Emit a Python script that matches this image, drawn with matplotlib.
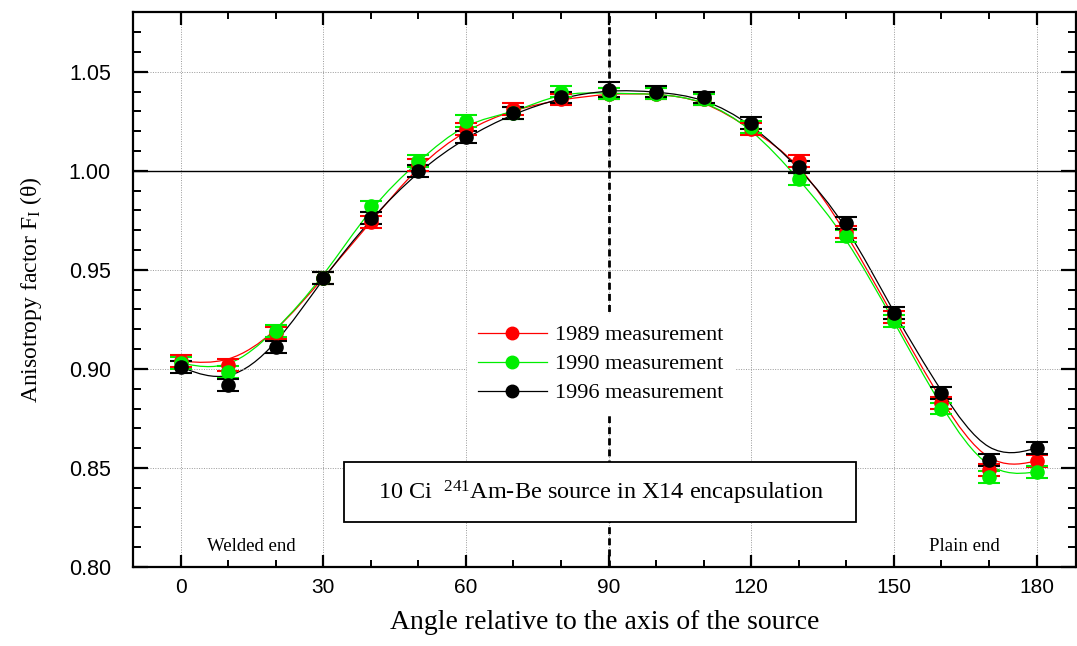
import numpy as np
import matplotlib
matplotlib.use("Agg")
import matplotlib.pyplot as plt
from matplotlib.path import Path
from matplotlib.patches import PathPatch, Rectangle
from matplotlib.lines import Line2D
from matplotlib.ticker import MultipleLocator

plt.rcParams['mathtext.fontset'] = 'custom'
plt.rcParams['mathtext.rm'] = 'Liberation Serif'
plt.rcParams['mathtext.it'] = 'Liberation Serif:italic'

# data
angles = [0, 10, 20, 30, 40, 50, 60, 70, 80, 90, 100, 110, 120, 130, 140, 150, 160, 170, 180]
f_1989 = [0.904, 0.902, 0.918, 0.946, 0.974, 1.003, 1.021, 1.031, 1.036, 1.039, 1.039, 1.036,
          1.021, 1.005, 0.969, 0.926, 0.883, 0.849, 0.8535]
f_1990 = [0.903, 0.8985, 0.919, 0.946, 0.982, 1.005, 1.025, 1.029, 1.040, 1.039, 1.039, 1.036,
          1.022, 0.996, 0.967, 0.924, 0.880, 0.8455, 0.848]
f_1996 = [0.901, 0.892, 0.911, 0.946, 0.976, 1.000, 1.017, 1.029, 1.037, 1.041, 1.040, 1.037,
          1.024, 1.002, 0.9735, 0.928, 0.888, 0.854, 0.860]
err_1989 = [0.003] * 19
err_1990 = [0.003] * 19
err_1996 = [0.003, 0.003, 0.003, 0.003, 0.003, 0.003, 0.003, 0.003, 0.003, 0.004, 0.003, 0.003,
            0.003, 0.003, 0.003, 0.003, 0.003, 0.003, 0.003]
labels = ["1989 measurement", "1990 measurement", "1996 measurement"]
colors = ["#ff0000", "#00ee00", "#000000"]


def bspline_path(x, y):
    # uniform cubic B-spline (clamped ends) as bezier segments
    p = np.column_stack([x, y]).astype(float)
    q = np.vstack([p[0], p[0], p, p[-1], p[-1]])
    verts = []
    codes = []
    for i in range(1, len(q) - 2):
        b0 = (q[i - 1] + 4 * q[i] + q[i + 1]) / 6
        b1 = (2 * q[i] + q[i + 1]) / 3
        b2 = (q[i] + 2 * q[i + 1]) / 3
        b3 = (q[i] + 4 * q[i + 1] + q[i + 2]) / 6
        if not verts:
            verts.append(b0)
            codes.append(Path.MOVETO)
        verts += [b1, b2, b3]
        codes += [Path.CURVE4] * 3
    return Path(verts, codes)


fig = plt.figure(figsize=(10.77, 6.46), dpi=100)
ax = fig.add_axes([133 / 1077, 1 - 567 / 646, 943 / 1077, (567 - 12.3) / 646])

ax.set_xlim(-10, 188.3)
ax.set_ylim(0.80, 1.08)

ax.grid(which='major', linestyle=(0, (1, 1.5)), color='#999999', linewidth=0.7)
ax.axhline(1.0, color='black', linewidth=1.0)
ax.axvline(90, color='black', linewidth=2.0, linestyle=(0, (2.5, 1.5)))

for ys, es, c in zip([f_1989, f_1990, f_1996], [err_1989, err_1990, err_1996], colors):
    ax.add_patch(PathPatch(bspline_path(angles, ys), fill=False, edgecolor=c, linewidth=0.9))
    ax.errorbar(angles, ys, yerr=es, fmt='o', color=c, markersize=9.5, capsize=8,
                elinewidth=1.5, capthick=1.5)

handles = [Line2D([], [], color=c, marker='o', markersize=9, linewidth=0.9) for c in colors]
leg = ax.legend(handles, labels, loc='upper left', bbox_to_anchor=(0.354, 0.4565),
                frameon=True, fancybox=False, facecolor='white', edgecolor='white',
                framealpha=1, prop={'family': 'Liberation Serif', 'size': 16},
                handlelength=3.1, handletextpad=0.35, labelspacing=0.38, borderpad=0.5,
                borderaxespad=0)
leg.set_zorder(4)

ax.add_patch(Rectangle((34.3, 0.8228), 107.7, 0.0302, facecolor='white',
                       edgecolor='black', linewidth=1.3, zorder=5))
ax.text(88.5, 0.8375, r"10 Ci  $^{241}$Am-Be source in X14 encapsulation", ha='center',
        va='center', family='Liberation Serif', fontsize=17.5, zorder=6)

ax.text(14.8, 0.8105, "Welded end", ha='center', va='center', family='Liberation Serif', fontsize=13.5)
ax.text(164.9, 0.8105, "Plain end", ha='center', va='center', family='Liberation Serif', fontsize=13.5)

ax.xaxis.set_major_locator(MultipleLocator(30))
ax.xaxis.set_minor_locator(MultipleLocator(10))
ax.yaxis.set_major_locator(MultipleLocator(0.05))
ax.yaxis.set_minor_locator(MultipleLocator(0.01))
ax.yaxis.set_major_formatter(plt.FormatStrFormatter('%.2f'))

ax.tick_params(axis='x', which='major', direction='in', length=9, width=1.6, top=True,
               pad=8, labelsize=15)
ax.tick_params(axis='x', which='minor', direction='in', length=5, width=1.4, top=True)
ax.tick_params(axis='y', which='major', direction='in', length=11, width=1.6, right=True,
               pad=16, labelsize=15.5)
ax.tick_params(axis='y', which='minor', direction='in', length=6, width=1.4, right=True)
for lab in ax.get_xticklabels() + ax.get_yticklabels():
    lab.set_family('Liberation Sans')

for s in ax.spines.values():
    s.set_linewidth(1.6)

ax.set_xlabel("Angle relative to the axis of the source", family='Liberation Serif',
              fontsize=20, labelpad=9)
ax.set_ylabel(r"Anisotropy factor F$_{\rm I}$ (θ)", family='Liberation Serif', fontsize=17,
              labelpad=18)

fig.savefig("out.png", dpi=100)
